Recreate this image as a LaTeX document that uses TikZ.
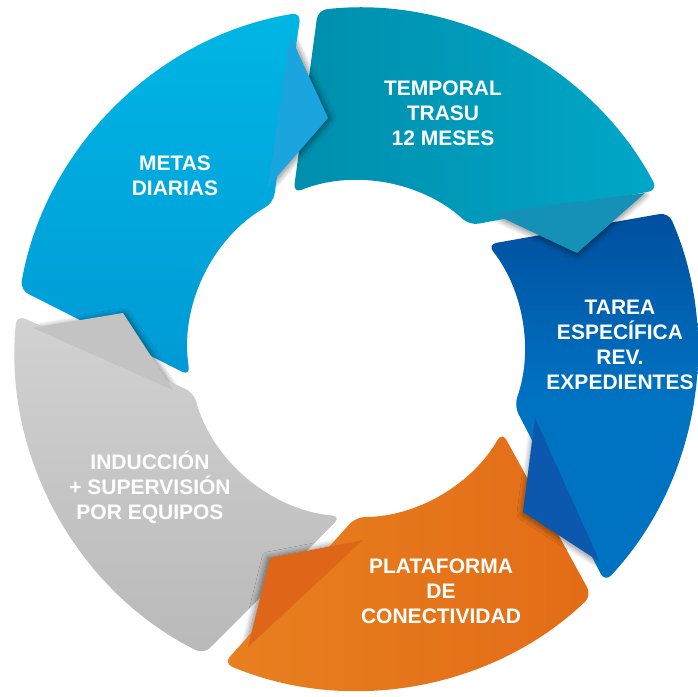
\documentclass[tikz,border=0pt]{standalone}
\usepackage{fontspec}
\setmainfont{Liberation Sans}
\usetikzlibrary{shadows.blur}

\definecolor{metasTop}{HTML}{00B6E4}
\definecolor{metasBot}{HTML}{009AD6}
\definecolor{metasFold}{HTML}{1AA5DF}
\definecolor{tealL}{HTML}{008EAD}
\definecolor{tealR}{HTML}{00A7C7}
\definecolor{tealFold}{HTML}{1590B6}
\definecolor{blueTop}{HTML}{004F9E}
\definecolor{blueBot}{HTML}{0072C2}
\definecolor{blueFold}{HTML}{0B58AE}
\definecolor{orangeL}{HTML}{E8801F}
\definecolor{orangeR}{HTML}{E36C17}
\definecolor{orangeFold}{HTML}{DF6618}
\definecolor{grayTop}{HTML}{D2D2D2}
\definecolor{grayBot}{HTML}{B9B9B9}
\definecolor{grayFold}{HTML}{C3C3C3}

% ring radii
\def\Ro{341}
\def\Ri{168}
% band outlines: outer arc clockwise, then inner arc back
\def\metasBand{(170:\Ro) arc (170:99.3:\Ro)
  -- (119.5:\Ri) arc (119.5:189.2:\Ri) -- cycle}
\def\tealBand{(96.4:\Ro) arc (96.4:27.8:\Ro)
  -- (47.4:\Ri) arc (47.4:111.9:\Ri) -- cycle}
\def\blueBand{(23.6:\Ro) arc (23.6:-43.1:\Ro)
  -- (-19.7:\Ri) arc (-19.7:38.5:\Ri) -- cycle}
\def\orangeBand{(-46.3:\Ro) arc (-46.3:-112.8:\Ro)
  -- (-90:\Ri) arc (-90:-29.6:\Ri) -- cycle}
\def\grayBand{(243.5:\Ro) arc (243.5:174.3:\Ro)
  -- (195:\Ri) arc (195:264.9:\Ri) -- cycle}

\begin{document}
\begin{tikzpicture}[x=1pt,y=1pt,
  band/.style={rounded corners=9pt},
  foldshadow/.style n args={2}{blur shadow={shadow xshift=#1, shadow yshift=#2,
      shadow blur radius=6pt, shadow opacity=50, shadow blur steps=14}},
  lbl/.style={text=white, font=\fontsize{21}{25}\selectfont\bfseries,
      align=center, inner sep=0pt}]
\useasboundingbox (-356,-347) rectangle (342,349);

% ---- ring bands ----
\path[band, top color=metasTop, bottom color=metasBot] \metasBand;
\path[band, left color=tealL, right color=tealR] \tealBand;
\path[band, top color=blueTop, bottom color=blueBot, middle color=blueBot] \blueBand;
\path[band, left color=orangeL, right color=orangeR] \orangeBand;
\path[band, top color=grayTop, bottom color=grayBot] \grayBand;

% ---- shadows of the folded tips, kept off their own band ----
\begin{scope}[band, even odd rule]
  \clip (-356,-347) rectangle (342,349) \metasBand;
  \path[sharp corners, foldshadow={2pt}{-1pt}] (-66,314) -- (-28,231) -- (-88,162) -- cycle;
\end{scope}
\begin{scope}[band, even odd rule]
  \clip (-356,-347) rectangle (342,349) \tealBand;
  \path[sharp corners, foldshadow={0pt}{-2pt}] (136,136) -- (289,156) -- (221,96) -- cycle;
\end{scope}
\begin{scope}[band, even odd rule]
  \clip (-356,-347) rectangle (342,349) \blueBand;
  \path[sharp corners, foldshadow={0pt}{-2pt}] (179,-69) -- (244,-213) -- (167,-163) -- cycle;
\end{scope}
\begin{scope}[band, even odd rule]
  \clip (-356,-347) rectangle (342,349) \orangeBand;
  \path[sharp corners, foldshadow={-2pt}{0pt}] (7,-191) -- (-108,-298) -- (-86,-209) -- cycle;
\end{scope}
\begin{scope}[band, even odd rule]
  \clip (-356,-347) rectangle (342,349) \grayBand;
  \path[sharp corners, foldshadow={2pt}{-1pt}] (-323,21) -- (-183,-41) -- (-233,36) -- cycle;
\end{scope}

% ---- folded tips over the next band ----
\fill[metasFold]  (-66,314) -- (-28,231) -- (-88,162) -- cycle;
\fill[tealFold]   (136,136) -- (289,156) -- (221,96) -- cycle;
\fill[blueFold]   (179,-69) -- (244,-213) -- (167,-163) -- cycle;
\fill[orangeFold] (7,-191) -- (-108,-298) -- (-86,-209) -- cycle;
\fill[grayFold]   (-323,21) -- (-183,-41) -- (-233,36) -- cycle;

% ---- labels ----
\node[lbl] (metas) at (-181,173) {METAS\\DIARIAS};
\node[lbl] (temporal) at (87,236) {TEMPORAL\\TRASU\\12 MESES};
\node[lbl] (tarea) at (264,4) {TAREA\\ESPECÍFICA\\REV.\\EXPEDIENTES};
\node[lbl] (plataforma) at (85,-242) {PLATAFORMA\\DE\\CONECTIVIDAD};
\node[lbl] (induccion) at (-206,-138) {INDUCCIÓN\\+ SUPERVISIÓN\\POR EQUIPOS};
\end{tikzpicture}
\end{document}
